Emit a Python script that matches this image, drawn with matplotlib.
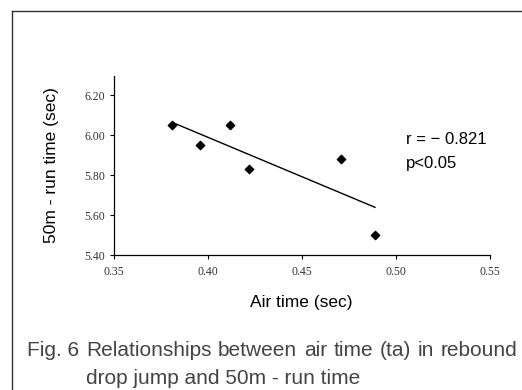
import numpy as np
import matplotlib
matplotlib.use("Agg")
import matplotlib.pyplot as plt
from matplotlib.lines import Line2D

# data
air_time = [0.381, 0.396, 0.412, 0.422, 0.471, 0.489]
run_time = [6.05, 5.95, 6.05, 5.83, 5.88, 5.50]
x_ticks = [0.35, 0.40, 0.45, 0.50, 0.55]
y_ticks = [5.40, 5.60, 5.80, 6.00, 6.20]
caption_words = ["Relationships", "between", "air", "time", "(ta)", "in", "rebound"]

sans = "Liberation Sans"

W, H = 522, 390
fig = plt.figure(figsize=(W / 100, H / 100), dpi=100)

# outer frame (top and left edges visible)
fig.add_artist(Line2D([12 / W, 1.0], [1 - 11 / H, 1 - 11 / H], color="#333333", lw=1.0))
fig.add_artist(Line2D([12 / W, 12 / W], [0.0, 1 - 11 / H], color="#333333", lw=1.0))

ax = fig.add_axes([113.7 / W, 1 - 255 / H, (489.7 - 113.7) / W, (255 - 76) / H])
ax.scatter(air_time, run_time, marker="D", s=18, color="black", zorder=3)

slope, icpt = np.polyfit(air_time, run_time, 1)
xs = np.array([min(air_time), max(air_time)])
ax.plot(xs, slope * xs + icpt, color="black", lw=1.0)

ax.set_xlim(0.35, 0.55)
ax.set_ylim(5.40, 6.295)
ax.set_xticks(x_ticks)
ax.set_yticks(y_ticks)
ax.set_xticklabels([f"{v:.2f}" for v in x_ticks])
ax.set_yticklabels([f"{v:.2f}" for v in y_ticks])
for lab in ax.get_xticklabels() + ax.get_yticklabels():
    lab.set_fontfamily("Liberation Serif")
    lab.set_fontsize(8.5)
    lab.set_color("#333333")
ax.tick_params(axis="both", length=3, width=0.8, pad=3, direction="out")
ax.tick_params(axis="x", pad=5)
for s in ["top", "right"]:
    ax.spines[s].set_visible(False)
for s in ["left", "bottom"]:
    ax.spines[s].set_linewidth(0.9)

ax.set_xlabel("Air time (sec)", fontfamily=sans, fontsize=12.5, labelpad=12)
ax.set_ylabel("50m - run time (sec)", fontfamily=sans, fontsize=12.5, labelpad=18)

fig.text(406 / W, 1 - 139 / H, "r = \u2212 0.821", fontfamily=sans, fontsize=12,
         va="center", ha="left")
fig.text(406 / W, 1 - 163 / H, "p<0.05", fontfamily=sans, fontsize=12,
         va="center", ha="left")

# caption, first line justified between x=86 and x=517
cap = "#444444"
fs = 15
fig.text(27 / W, 1 - 350 / H, "Fig. 6", fontfamily=sans, fontsize=fs,
         color=cap, va="center", ha="left")
renderer = fig.canvas.get_renderer()
words = [fig.text(0, 1 - 350 / H, w, fontfamily=sans, fontsize=fs, color=cap,
                  va="center", ha="left") for w in caption_words]
widths = [t.get_window_extent(renderer).width for t in words]
gap = (517 - 86 - sum(widths)) / (len(words) - 1)
x = 86
for t, w in zip(words, widths):
    t.set_x(x / W)
    x += w + gap
fig.text(86 / W, 1 - 378 / H, "drop jump and 50m - run time",
         fontfamily=sans, fontsize=fs, color=cap, va="center", ha="left")

fig.savefig("out.png", dpi=100)
